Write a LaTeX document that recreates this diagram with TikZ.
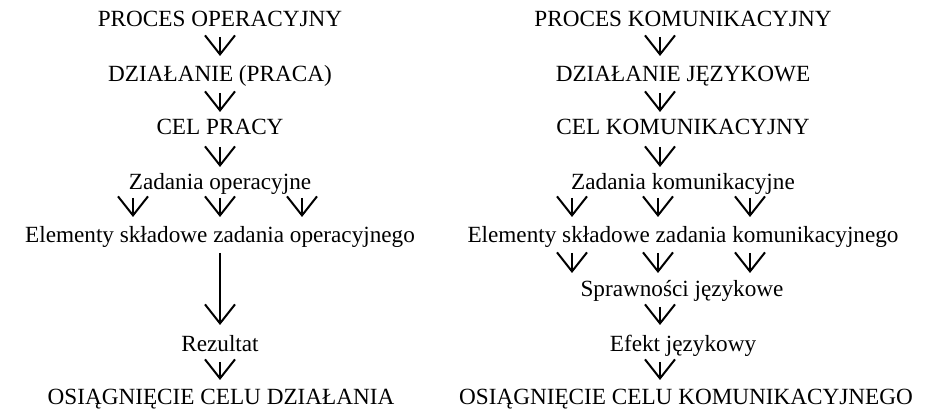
\documentclass[tikz,border=0pt]{standalone}
\usepackage{fontspec}
\setmainfont{Liberation Serif}
\usetikzlibrary{arrows.meta}
\tikzset{
  lbl/.style={anchor=base, inner sep=0pt, font=\fontsize{23.2}{27}\selectfont},
  arr/.style={line width=2pt, -{Straight Barb[length=19pt,width=30pt,line width=2pt]}},
}
\begin{document}
\begin{tikzpicture}[x=1pt,y=-1pt]
\useasboundingbox (0,0) rectangle (927,411);
% left column
\node[lbl] (l1) at (220,27) {PROCES OPERACYJNY};
\node[lbl] (l2) at (220,82) {DZIAŁANIE (PRACA)};
\node[lbl] (l3) at (220,135) {CEL PRACY};
\node[lbl] (l4) at (220,190) {Zadania operacyjne};
\node[lbl] (l5) at (220,243) {Elementy składowe zadania operacyjnego};
\node[lbl] (l6) at (220,352) {Rezultat};
\node[lbl] (l7) at (221,405) {OSIĄGNIĘCIE CELU DZIAŁANIA};
% right column
\node[lbl] (r1) at (683,27) {PROCES KOMUNIKACYJNY};
\node[lbl] (r2) at (683,82) {DZIAŁANIE JĘZYKOWE};
\node[lbl] (r3) at (683,135) {CEL KOMUNIKACYJNY};
\node[lbl] (r4) at (683,190) {Zadania komunikacyjne};
\node[lbl] (r5) at (683,243) {Elementy składowe zadania komunikacyjnego};
\node[lbl] (r6) at (682,297) {Sprawności językowe};
\node[lbl] (r7) at (683,352) {Efekt językowy};
\node[lbl] (r8) at (686,405) {OSIĄGNIĘCIE CELU KOMUNIKACYJNEGO};
\coordinate (rax) at (660,0);
% left arrows
\draw[arr] ([yshift=-10pt]l1.base) -- ([yshift=26pt]l2.base);
\draw[arr] ([yshift=-11pt]l2.base) -- ([yshift=23pt]l3.base);
\draw[arr] ([yshift=-12pt]l3.base) -- ([yshift=23pt]l4.base);
\foreach \dx in {-87,0,82}{
  \draw[arr] ([xshift=\dx pt,yshift=-8pt]l4.base) -- ([xshift=\dx pt,yshift=26pt]l5.base);
}
\draw[arr] ([yshift=-10pt]l5.base) -- ([yshift=27pt]l6.base);
\draw[arr] ([yshift=-10pt]l6.base) -- ([xshift=-1pt,yshift=25pt]l7.base);
% right arrows
\draw[arr] ([yshift=-10pt]r1.base -| rax) -- ([yshift=26pt]r2.base -| rax);
\draw[arr] ([yshift=-11pt]r2.base -| rax) -- ([yshift=23pt]r3.base -| rax);
\draw[arr] ([yshift=-12pt]r3.base -| rax) -- ([yshift=23pt]r4.base -| rax);
\foreach \dx in {-88,-2,90}{
  \draw[arr] ([xshift=\dx pt,yshift=-8pt]r4.base -| rax) -- ([xshift=\dx pt,yshift=26pt]r5.base -| rax);
  \draw[arr] ([xshift=\dx pt,yshift=-10pt]r5.base -| rax) -- ([xshift=\dx pt,yshift=24pt]r6.base -| rax);
}
\draw[arr] ([yshift=-10pt]r6.base -| rax) -- ([yshift=27pt]r7.base -| rax);
\draw[arr] ([yshift=-10pt]r7.base -| rax) -- ([yshift=25pt]r8.base -| rax);
\end{tikzpicture}
\end{document}
